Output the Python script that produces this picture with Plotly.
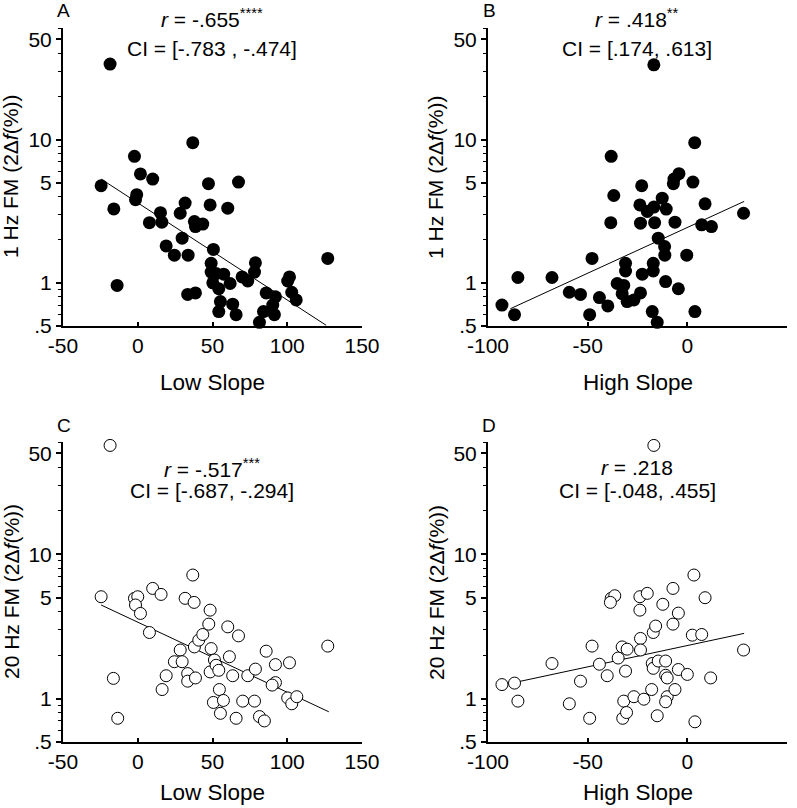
import plotly.graph_objects as go

W, H = 797, 808

# ---------------- data ----------------
low_slope_A = [-24.5, -16.0, -13.8, -2.2, 1.8, 10.0, -0.7, -1.5, 7.8, 15.2, 16.1, 19.0, 24.5, 29.7, 28.4,
               31.7, 33.7, 33.4, 38.6, 36.8, 37.9, 38.6, 43.5, 47.3, 48.4, 50.6, 49.1, 49.1, 52.4, 57.5,
               50.2, 54.2, 61.8, 55.3, 54.2, 63.5, 65.8, 60.2, 67.4, 69.8, 73.6, 78.7, 78.1, 81.4, 85.9,
               84.1, 92.1, 90.3, 91.4, 101.5, 100.3, 103.0, 106.0, 127.1, -18.5]
fm1_A = [4.76, 3.28, 0.96, 7.64, 5.75, 5.3, 4.12, 3.8, 2.63, 3.09, 2.65, 1.81, 1.56, 2.05, 3.06,
         3.6, 1.56, 0.83, 0.85, 9.5, 2.68, 2.47, 2.57, 4.92, 3.5, 1.71, 1.37, 1.19, 1.16, 1.15,
         1.0, 0.91, 0.99, 0.74, 0.63, 0.71, 0.60, 3.32, 5.05, 1.10, 1.03, 1.38, 1.19, 0.53, 0.85,
         0.63, 0.80, 0.70, 0.60, 1.10, 1.03, 0.86, 0.76, 1.48, 33.6]

high_slope_B = [-93.0, -86.7, -85.0, -67.9, -59.2, -53.6, -49.0, -47.8, -44.1, -39.9, -38.2, -36.9, -38.4,
                -31.0, -31.0, -35.2, -31.9, -32.7, -30.2, -26.8, -23.5, -22.6, -22.9, -23.8, -23.5, -20.1,
                -16.8, -16.4, -12.6, -10.6, -6.2, -14.6, -11.4, -11.3, -17.1, -17.1, -10.9, -4.5, -17.6,
                -15.1, -0.3, 3.8, -6.7, -4.2, -7.0, 2.8, 3.7, 8.9, 7.2, 12.1, 28.2, -16.8]
fm1_B = [0.70, 0.60, 1.09, 1.09, 0.86, 0.83, 0.60, 1.48, 0.79, 0.69, 7.64, 4.07, 2.63,
         1.37, 1.21, 0.99, 0.96, 0.84, 0.74, 0.76, 0.85, 1.15, 4.76, 3.5, 2.61, 3.15,
         3.38, 2.63, 3.9, 3.27, 2.65, 2.05, 1.79, 1.56, 1.37, 1.21, 1.02, 0.91, 0.63,
         0.53, 1.56, 0.63, 5.3, 5.78, 4.92, 5.05, 9.5, 3.56, 2.54, 2.47, 3.06, 33.2]

low_slope_C = [-24.5, -16.3, -13.4, -2.2, 0.0, -1.5, 1.8, 10.0, 15.6, 7.8, 16.3, 19.0, 24.5, 28.4, 29.7,
               33.4, 33.4, 38.6, 31.7, 37.7, 36.8, 37.9, 40.8, 43.5, 48.4, 47.5, 49.1, 51.3, 48.4, 52.4,
               54.2, 54.6, 50.6, 57.3, 55.3, 60.2, 61.3, 63.5, 67.4, 65.8, 70.2, 73.6, 78.7, 78.1, 81.4,
               84.7, 85.9, 92.1, 92.1, 89.9, 101.5, 100.3, 103.0, 106.4, 127.1, -18.5]
fm20_C = [5.08, 1.38, 0.73, 4.95, 5.08, 4.45, 3.89, 5.8, 5.27, 2.87, 1.155, 1.44, 1.8, 2.17, 1.8,
          1.49, 1.32, 1.39, 4.95, 4.64, 7.18, 2.28, 2.54, 2.78, 4.1, 3.28, 2.22, 1.85, 1.53, 1.70,
          1.57, 1.155, 0.94, 0.97, 0.79, 3.14, 1.95, 1.44, 2.72, 0.73, 0.96, 1.44, 1.6, 0.96, 0.75,
          0.70, 2.13, 1.72, 1.29, 1.24, 1.77, 1.01, 0.92, 1.03, 2.31, 56.8]

high_slope_D = [-93.0, -86.7, -85.0, -67.9, -59.2, -53.6, -49.0, -47.8, -44.1, -40.2, -38.2, -36.4, -38.6,
                -34.7, -32.7, -30.2, -31.0, -31.9, -32.4, -30.5, -26.8, -21.8, -23.8, -20.1, -23.8, -23.5,
                -23.5, -17.1, -15.9, -17.6, -17.1, -14.6, -10.9, -10.9, -10.1, -17.9, -10.1, -10.9, -15.1,
                -6.2, -4.5, 0.0, -12.3, -7.2, -4.5, -7.2, 3.3, 8.9, 2.5, 7.2, 11.7, 3.8, 28.2, -16.8]
fm20_D = [1.25, 1.28, 0.96, 1.75, 0.92, 1.32, 0.73, 2.31, 1.73, 1.44, 4.95, 5.16, 4.64,
          1.91, 2.28, 2.2, 1.55, 0.96, 0.73, 0.80, 1.03, 0.99, 5.08, 5.36, 4.1, 2.61,
          2.17, 2.87, 3.18, 1.75, 1.62, 1.82, 1.82, 1.45, 1.39, 1.155, 1.03, 0.95, 0.76,
          1.155, 1.59, 1.47, 4.5, 3.28, 3.91, 5.8, 7.18, 5.0, 2.75, 2.78, 1.39, 0.69, 2.17, 56.8]

# regression line end points
fit_A_x, fit_A_y = [-24.5, 126.0], [5.3, 0.506]
fit_B_x, fit_B_y = [-88.8, 28.5], [0.66, 3.7]
fit_C_x, fit_C_y = [-24.5, 127.8], [4.45, 0.81]
fit_D_x, fit_D_y = [-92.7, 28.5], [1.24, 2.83]

y_tickvals = [0.5, 1, 5, 10, 50]
y_ticktext = [".5", "1", "5", "10", "50"]
y_minor = [0.6, 0.7, 0.8, 0.9, 2, 3, 4, 6, 7, 8, 9, 20, 30, 40, 60]
low_ticks = [-50, 0, 50, 100, 150]
high_ticks = [-100, -50, 0, 50]

panel_labels = ["A", "B", "C", "D"]
r_texts = ["<i>r</i> = -.655<sup>****</sup>", "<i>r</i> = .418<sup>**</sup>",
           "<i>r</i> = -.517<sup>***</sup>", "<i>r</i> = .218"]
ci_texts = ["CI = [-.783 , -.474]", "CI = [.174, .613]",
            "CI = [-.687, -.294]", "CI = [-.048, .455]"]
x_titles = ["Low Slope", "High Slope", "Low Slope", "High Slope"]
y_titles = ["1 Hz FM (2Δ<i>f</i>(%))", "1 Hz FM (2Δ<i>f</i>(%))",
            "20 Hz FM (2Δ<i>f</i>(%))", "20 Hz FM (2Δ<i>f</i>(%))"]

# ---------------- layout geometry (pixels) ----------------
FONT = "Liberation Sans, Arial, sans-serif"
cols = [(63, 362), (488, 787)]
rows = [(28, 326), (442, 742)]
xtitle_y = [382, 792]

def px_x(p):
    return p / W

def px_y(p):
    return 1 - p / H

fig = go.Figure()

panels = [
    (low_slope_A, fm1_A, fit_A_x, fit_A_y, True, [-50, 150], low_ticks),
    (high_slope_B, fm1_B, fit_B_x, fit_B_y, True, [-100, 50], high_ticks),
    (low_slope_C, fm20_C, fit_C_x, fit_C_y, False, [-50, 150], low_ticks),
    (high_slope_D, fm20_D, fit_D_x, fit_D_y, False, [-100, 50], high_ticks),
]

annotations = []
for i, (xs, ys, fx, fy, filled, xr, xt) in enumerate(panels):
    n = i + 1
    xa = "x" if n == 1 else f"x{n}"
    ya = "y" if n == 1 else f"y{n}"
    c0, c1 = cols[i % 2]
    r0, r1 = rows[i // 2]

    fig.add_trace(go.Scatter(x=fx, y=fy, mode="lines", xaxis=xa, yaxis=ya,
                             line=dict(color="black", width=1), showlegend=False,
                             hoverinfo="skip"))
    if filled:
        marker = dict(size=13, color="black", line=dict(width=0))
    else:
        marker = dict(size=12, color="white", line=dict(color="black", width=1))
    fig.add_trace(go.Scatter(x=xs, y=ys, mode="markers", xaxis=xa, yaxis=ya,
                             marker=marker, showlegend=False, cliponaxis=False))

    xkey = "xaxis" if n == 1 else f"xaxis{n}"
    ykey = "yaxis" if n == 1 else f"yaxis{n}"
    fig.layout[xkey] = dict(
        domain=[px_x(c0), px_x(c1)], anchor=ya, range=xr, automargin=False,
        tickvals=xt, ticktext=[str(v) for v in xt],
        ticks="inside", ticklen=4, tickwidth=1.5, tickcolor="black",
        showline=True, linecolor="black", linewidth=2,
        showgrid=False, zeroline=False,
        tickfont=dict(family=FONT, size=21, color="black"),
    )
    fig.layout[ykey] = dict(
        domain=[px_y(r1), px_y(r0)], anchor=xa, type="log", automargin=False,
        range=[-0.30103, 1.77815],
        tickvals=y_tickvals, ticktext=y_ticktext,
        ticks="outside", ticklen=5, tickwidth=1.5, tickcolor="black",
        minor=dict(tickvals=y_minor, ticks="outside", ticklen=3, tickwidth=1, tickcolor="black"),
        showline=True, linecolor="black", linewidth=2,
        showgrid=False, zeroline=False,
        tickfont=dict(family=FONT, size=21, color="black"),
    )

    cx = (c0 + c1) / 2
    # panel letter
    annotations.append(dict(text=panel_labels[i], x=px_x(c0 + 1), y=px_y(r0 - 18 if i < 2 else r0 - 17),
                            xref="paper", yref="paper", showarrow=False,
                            xanchor="center", yanchor="middle",
                            font=dict(family=FONT, size=19, color="black")))
    # x title
    annotations.append(dict(text=x_titles[i], x=px_x(cx), y=px_y(xtitle_y[i // 2]),
                            xref="paper", yref="paper", showarrow=False,
                            xanchor="center", yanchor="middle",
                            font=dict(family=FONT, size=22.5, color="black")))
    # y title
    annotations.append(dict(text=y_titles[i], x=px_x(c0 - 52), y=px_y((r0 + r1) / 2),
                            xref="paper", yref="paper", showarrow=False, textangle=-90,
                            xanchor="center", yanchor="middle",
                            font=dict(family=FONT, size=21, color="black")))

# r / CI annotations
stat_pos = [(212, 18, 49), (637, 18, 49), (212, 468, 490), (637, 468, 490)]
for i, (sx, ry, cy) in enumerate(stat_pos):
    annotations.append(dict(text=r_texts[i], x=px_x(sx), y=px_y(ry),
                            xref="paper", yref="paper", showarrow=False,
                            xanchor="center", yanchor="middle",
                            font=dict(family=FONT, size=21, color="black")))
    annotations.append(dict(text=ci_texts[i], x=px_x(sx), y=px_y(cy),
                            xref="paper", yref="paper", showarrow=False,
                            xanchor="center", yanchor="middle",
                            font=dict(family=FONT, size=21, color="black")))

fig.update_layout(
    template="none",
    width=W, height=H,
    margin=dict(l=0, r=0, t=0, b=0, autoexpand=False),
    paper_bgcolor="white", plot_bgcolor="white",
    font=dict(family=FONT, size=20, color="black"),
    annotations=annotations,
    showlegend=False,
)

# remove the browser's default 8px body margin so the figure starts at the page corner
fig.write_html("out.html",
               config={"displayModeBar": False},
               post_script="document.body.style.margin='0';document.body.style.overflow='hidden';")
